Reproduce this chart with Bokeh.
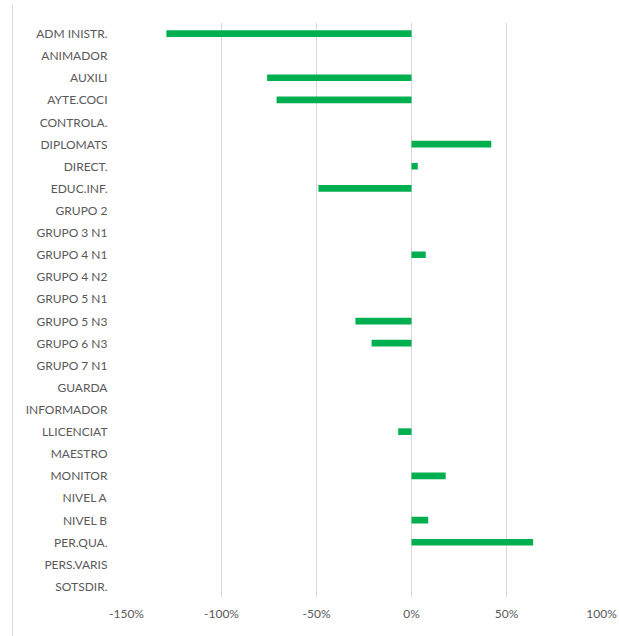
from bokeh.plotting import figure
from bokeh.models import ColumnDataSource, FactorRange, FixedTicker, NumeralTickFormatter
from bokeh.embed import file_html
from bokeh.resources import INLINE

categories = ["ADM INISTR.", "ANIMADOR", "AUXILI", "AYTE.COCI", "CONTROLA.", "DIPLOMATS",
              "DIRECT.", "EDUC.INF.", "GRUPO 2", "GRUPO 3 N1", "GRUPO 4 N1", "GRUPO 4 N2",
              "GRUPO 5 N1", "GRUPO 5 N3", "GRUPO 6 N3", "GRUPO 7 N1", "GUARDA", "INFORMADOR",
              "LLICENCIAT", "MAESTRO", "MONITOR", "NIVEL A", "NIVEL B", "PER.QUA.",
              "PERS.VARIS", "SOTSDIR."]
values = [-1.29, 0.0, -0.76, -0.71, 0.0, 0.42,
          0.033, -0.49, 0.0, 0.0, 0.075, 0.0,
          0.0, -0.295, -0.21, 0.0, 0.0, 0.0,
          -0.07, 0.0, 0.18, 0.0, 0.088, 0.64,
          0.0, 0.0]
ticks = [-1.5, -1.0, -0.5, 0.0, 0.5, 1.0]

src = ColumnDataSource(dict(cat=categories, val=values, zero=[0.0] * len(categories)))

p = figure(width=606, height=631, output_backend="svg", toolbar_location=None,
           y_range=FactorRange(*reversed(categories), range_padding=0),
           x_range=(-1.5, 1.0),
           min_border_left=113, min_border_right=18, min_border_top=17, min_border_bottom=39)
p.margin = (5, 0, 0, 12)
p.styles = {"border-left": "1px solid #d9d9d9"}

p.hbar(y="cat", left="zero", right="val", height=0.3, source=src,
       fill_color="#00b050", line_color=None)

p.outline_line_color = None
p.background_fill_color = "white"
p.border_fill_color = "white"

p.xgrid.ticker = FixedTicker(ticks=ticks)
p.xgrid.grid_line_color = "#d9d9d9"
p.xgrid.grid_line_width = 1
p.ygrid.grid_line_color = None

p.xaxis.ticker = FixedTicker(ticks=ticks)
p.xaxis.formatter = NumeralTickFormatter(format="0%")
for ax in (p.xaxis, p.yaxis):
    ax.axis_line_color = None
    ax.major_tick_line_color = None
    ax.minor_tick_line_color = None
    ax.major_label_text_color = "#595959"
    ax.major_label_text_font = "Lato"
    ax.major_label_text_font_size = "12px"
p.xaxis.major_label_standoff = 2
p.yaxis.major_label_standoff = 13

open("out.html", "w").write(file_html(p, INLINE))
